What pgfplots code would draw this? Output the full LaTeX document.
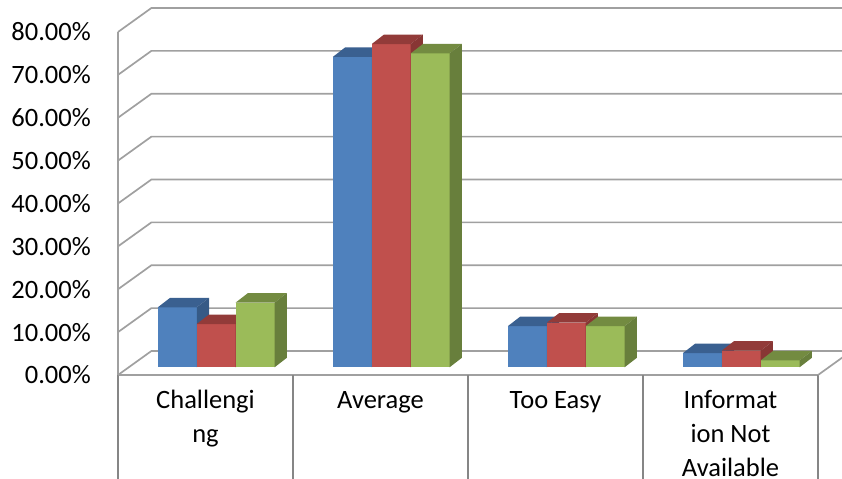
\documentclass[border=0pt]{standalone}
\usepackage{pgfplots}
\pgfplotsset{compat=1.18}
\usepackage{fontspec}
\setmainfont{Carlito}

\definecolor{gridgray}{RGB}{160,160,160}
\definecolor{sepgray}{RGB}{134,134,134}
\definecolor{blueF}{RGB}{79,129,189}
\definecolor{blueT}{RGB}{58,96,144}
\definecolor{blueS}{RGB}{54,90,134}
\definecolor{redF}{RGB}{192,80,77}
\definecolor{redT}{RGB}{146,59,57}
\definecolor{redS}{RGB}{136,54,52}
\definecolor{greenF}{RGB}{155,187,89}
\definecolor{greenT}{RGB}{115,139,65}
\definecolor{greenS}{RGB}{104,127,60}

% oblique view, in axis units
\def\bw{0.2223}   % width of one bar
\def\bb{1.796}    % bar base above the front edge of the floor
\def\ddx{0.0703}  % bar depth, horizontal
\def\ddy{2.216}   % bar depth, vertical

% \cuboid{category}{series}{value}{colour}
\newcommand{\cuboid}[4]{%
  \pgfmathsetmacro\xa{#1+0.2277+#2*\bw}%
  \pgfmathsetmacro\xb{\xa+\bw}%
  \pgfmathsetmacro\xc{\xb+\ddx}%
  \pgfmathsetmacro\xd{\xa+\ddx}%
  \pgfmathsetmacro\yt{\bb+#3}%
  \pgfmathsetmacro\ytb{\yt+\ddy}%
  \pgfmathsetmacro\ybb{\bb+\ddy}%
  \addplot[draw=none, fill=#4F] coordinates {(\xa,\bb) (\xb,\bb) (\xb,\yt) (\xa,\yt)};
  \addplot[draw=none, fill=#4T] coordinates {(\xa,\yt) (\xb,\yt) (\xc,\ytb) (\xd,\ytb)};
  \addplot[draw=none, fill=#4S] coordinates {(\xb,\bb) (\xc,\ybb) (\xc,\ytb) (\xb,\yt)};
}

\begin{document}
\begin{tikzpicture}
\begin{axis}[
  x=175pt, y=4.2875pt,
  xmin=0, xmax=4, ymin=0, ymax=80,
  clip=false,
  axis x line=bottom, axis y line=left,
  axis line style={draw=gridgray, line width=1.7pt, -},
  ytick={0,10,...,80},
  yticklabels={0.00\%,10.00\%,20.00\%,30.00\%,40.00\%,50.00\%,60.00\%,70.00\%,80.00\%},
  xtick={0.5,1.5,2.5,3.5},
  xticklabels={{\strut Challengi\\ng},{\strut Average},{\strut Too Easy},{\strut Informat\\ion Not\\Available}},
  major tick length=0pt,
  tick label style={font=\fontsize{26.5}{34}\selectfont, text=black},
  xticklabel style={align=center, anchor=north, inner sep=0pt, yshift=-9.5pt},
  yticklabel style={anchor=east, inner sep=0pt, xshift=-27pt},
  extra x ticks={0,1,2,3,4},
  extra x tick labels={},
  extra x tick style={major tick length=120pt, tick align=outside,
    tick style={draw=sepgray, line width=1.3pt}},
]
% side wall, back wall and floor
\pgfplotsinvokeforeach{0,10,...,80}{
  \draw[gridgray, line width=1.7pt] (axis cs:0,#1) -- ++(33.4pt,24pt) -- ++(740pt,0pt);
}
\draw[gridgray, line width=1.7pt] (axis cs:4,0) -- ++(33.4pt,24pt);

% Challenging
\cuboid{0}{0}{14.0}{blue}
\cuboid{0}{1}{10.1}{red}
\cuboid{0}{2}{15.1}{green}
% Average
\cuboid{1}{0}{72.4}{blue}
\cuboid{1}{1}{75.4}{red}
\cuboid{1}{2}{73.2}{green}
% Too Easy
\cuboid{2}{0}{9.6}{blue}
\cuboid{2}{1}{10.4}{red}
\cuboid{2}{2}{9.6}{green}
% Information Not Available
\cuboid{3}{0}{3.3}{blue}
\cuboid{3}{1}{3.9}{red}
\cuboid{3}{2}{1.6}{green}

\coordinate (bbsw) at (axis cs:-0.67429,-24.023);
\coordinate (bbne) at (axis cs:4.13714,87.4636);
\end{axis}
\pgfresetboundingbox
\useasboundingbox (bbsw) rectangle (bbne);
\end{tikzpicture}
\end{document}
